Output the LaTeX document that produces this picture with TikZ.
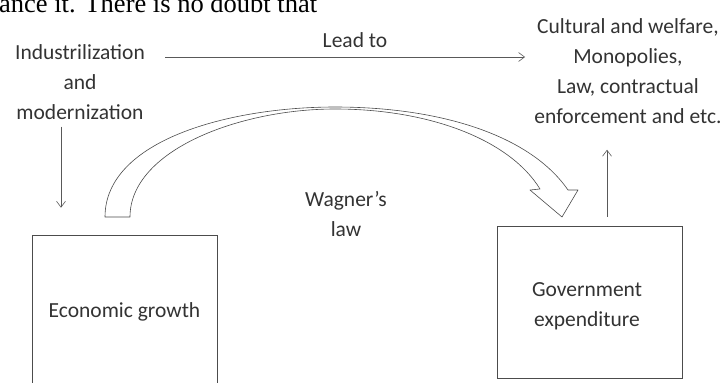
\documentclass[tikz,border=0pt]{standalone}
\usepackage{fontspec}
\setmainfont{Carlito}
\newfontfamily\pagefont{Liberation Serif}
\usetikzlibrary{positioning}
\usetikzlibrary{arrows.meta}

\begin{document}
\begin{tikzpicture}[x=1pt,y=-1pt]
\tikzstyle{box}=[rectangle,align=center,draw=black!70,line width=0.6pt,inner sep=0pt,text=black!80,font=\fontsize{21.5}{30}\selectfont]
\tikzstyle{label}=[align=center,inner sep=0pt,text=black!80,font=\fontsize{21.5}{30}\selectfont]
\tikzstyle{link}=[draw=black!65,line width=0.6pt,-{Straight Barb[length=6pt,width=9pt]}]
\useasboundingbox (0,0) rectangle (724,383);
\clip (0,0) rectangle (724,383);
\node[anchor=base west,inner sep=0pt,font=\pagefont\fontsize{26.5}{30}\selectfont] (page) at(-1, 12) {ance it. There is no doubt that};
\node[label] at(80, 82) (industry) {Industrilization\\and\\modernization};
\node[label] at(628, 71) (outcomes) {Cultural and welfare,\\Monopolies,\\Law, contractual\\enforcement and etc.};
\node[label] at(355, 40) (leadto) {Lead to};
\node[label] at(346, 214) (wagner) {Wagner’s\\law};
\node[box,minimum width=185pt,minimum height=154pt] at(124.5, 312) (growth) {Economic growth};
\node[box,minimum width=185pt,minimum height=152pt] at(589.5, 302) (spending) {};
\node[label] at(587, 306) (spendingtext) {Government\\expenditure};
\coordinate (leadstart) at(165, 57);
\coordinate (leadend) at(525, 57);
\coordinate (downx) at(61, 0);
\coordinate (upx) at(607, 0);
\draw[link] (leadstart) -- (leadend);
\draw[link,shorten <=7pt,shorten >=27pt] (industry.south -| downx) -- (growth.north -| downx);
\draw[link,shorten <=9pt,shorten >=26pt] (spending.north -| upx) -- (outcomes.south -| upx);
\draw[draw=black!70,line width=0.6pt,fill=white,line join=round]
  (105,217) .. controls (105,140) and (230,107) .. (335,107)
  .. controls (440,107) and (530,135) .. (568,190)
  -- (578,190) -- (562,217) -- (530,190) -- (540,189)
  .. controls (510,140) and (430,109) .. (335,109)
  .. controls (240,109) and (130,150) .. (130,217) -- cycle;
\end{tikzpicture}
\end{document}
